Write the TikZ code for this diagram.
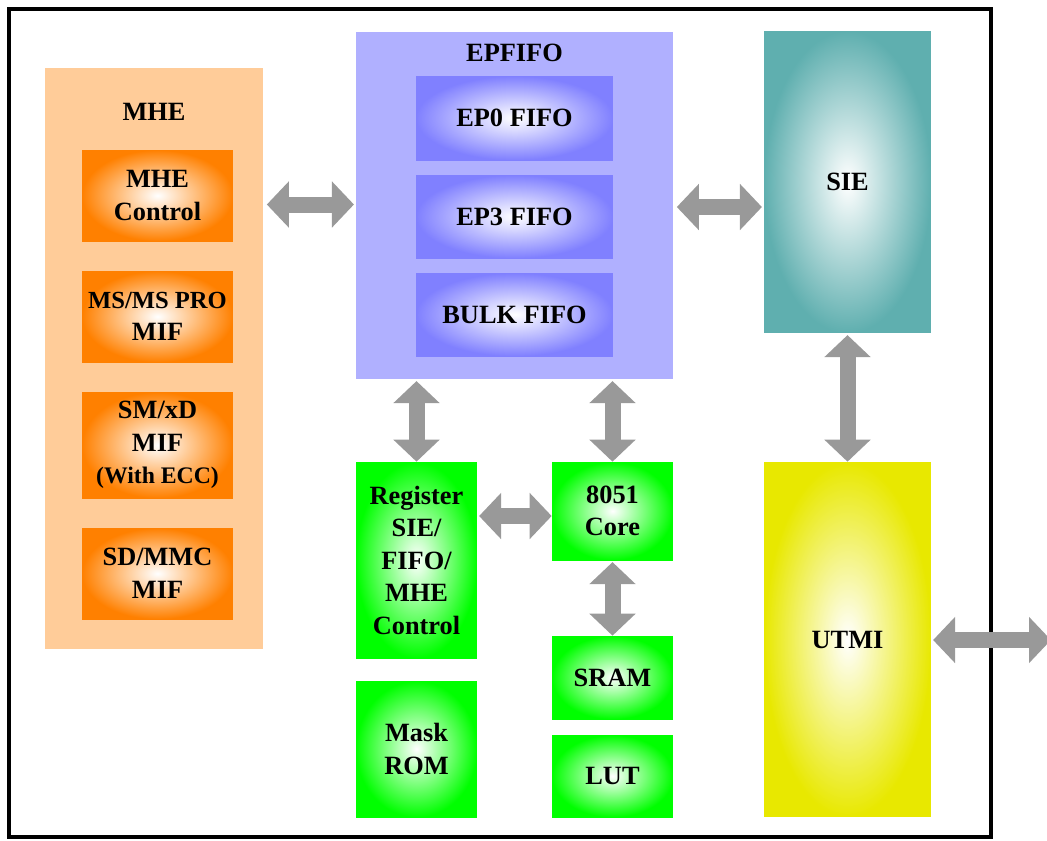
\documentclass[tikz,border=0pt]{standalone}
\usepackage{fontspec}
\setmainfont{Liberation Serif}
\usetikzlibrary{arrows.meta}
\definecolor{peach}{RGB}{255,204,153}
\definecolor{mheorange}{RGB}{255,128,0}
\definecolor{fifoback}{RGB}{176,176,255}
\definecolor{fifoblue}{RGB}{128,128,255}
\definecolor{sieteal}{RGB}{95,175,175}
\definecolor{utmiyellow}{RGB}{232,232,0}
\definecolor{ctlgreen}{RGB}{0,255,0}
\definecolor{arrowgray}{RGB}{153,153,153}
\pgfdeclareradialshading{orangeglow}{\pgfpointorigin}{color(0bp)=(white);color(25bp)=(mheorange);color(50bp)=(mheorange)}
\pgfdeclareradialshading{blueglow}{\pgfpointorigin}{color(0bp)=(white);color(25bp)=(fifoblue);color(50bp)=(fifoblue)}
\pgfdeclareradialshading{greenglow}{\pgfpointorigin}{color(0bp)=(white);color(25bp)=(ctlgreen);color(50bp)=(ctlgreen)}
\pgfdeclareradialshading{tealglow}{\pgfpointorigin}{color(0bp)=(white);color(25bp)=(sieteal);color(50bp)=(sieteal)}
\pgfdeclareradialshading{yellowglow}{\pgfpointorigin}{color(0bp)=(white);color(25bp)=(utmiyellow);color(50bp)=(utmiyellow)}
\begin{document}
\begin{tikzpicture}
[x=0.02cm, y=-0.02cm,
 font=\fontsize{15}{18.5}\selectfont\bfseries,
 back/.style ={rectangle, inner sep=0pt},
 block/.style ={rectangle, align=center, inner sep=0pt},
 mif/.style ={block, shading=orangeglow, minimum width=3.02cm, minimum height=1.82cm},
 fifo/.style ={block, shading=blueglow, minimum width=3.94cm},
 ctl/.style ={block, shading=greenglow, minimum width=2.42cm},
 fat/.style ={draw=arrowgray, line width=0.32cm, {Triangle[length=0.44cm, width=0.9cm]}-{Triangle[length=0.44cm, width=0.9cm]}}]
\useasboundingbox (0,0) rectangle (1047,840);
\fill[white] (0,0) rectangle (1047,840);
\draw[line width=0.08cm] (9,9) rectangle (991,837);
% MHE
\path (154,358.5) node[back, fill=peach, minimum width=4.36cm, minimum height=11.62cm] (mhe) {}
      (154,112) node (mhetitle) {MHE}
      (157.5,195.5) node[mif] (mhectl) {MHE\\Control}
      (157.5,316.5) node[mif] (msmif) {{\fontsize{14}{17}\selectfont MS/MS PRO}\\MIF}
      (157.5,445) node[mif, minimum height=2.12cm] (smmif) {SM/xD\\MIF\\{\fontsize{13.5}{14}\selectfont (With ECC)}}
      (157.5,573.5) node[mif] (sdmif) {SD/MMC\\MIF};
% EPFIFO
\path (514.5,205.5) node[back, fill=fifoback, minimum width=6.34cm, minimum height=6.94cm] (epfifo) {}
      (514.5,53) node (epfifotitle) {EPFIFO}
      (514.5,118) node[fifo, minimum height=1.68cm] (ep0) {EP0 FIFO}
      (514.5,216.5) node[fifo, minimum height=1.66cm] (ep3) {EP3 FIFO}
      (514.5,314.5) node[fifo, minimum height=1.66cm] (bulk) {BULK FIFO};
% SIE and UTMI
\path (847.5,182) node[block, shading=tealglow, minimum width=3.34cm, minimum height=6.04cm] (sie) {SIE}
      (847.5,639.5) node[block, shading=yellowglow, minimum width=3.34cm, minimum height=7.1cm] (utmi) {UTMI};
% 8051 side
\path (416.5,560) node[ctl, minimum height=3.92cm] (reg) {Register\\SIE/\\FIFO/\\MHE\\Control}
      (416.5,749) node[ctl, minimum height=2.72cm] (rom) {Mask\\ROM}
      (612.5,511) node[ctl, minimum height=1.96cm] (core) {8051\\Core}
      (612.5,677.5) node[ctl, minimum height=1.66cm] (sram) {SRAM}
      (612.5,776) node[ctl, minimum height=1.64cm] (lut) {LUT};
\coordinate (mherow) at (0,204.5);
\coordinate (sierow) at (0,207);
\coordinate (regrow) at (0,516);
\coordinate (usbend) at (1051,640);
\draw[fat] ([xshift=2]mhe.east |- mherow) -- ([xshift=-1]epfifo.west |- mherow);
\draw[fat] ([xshift=2]epfifo.east |- sierow) -- ([xshift=-1]sie.west |- sierow);
\draw[fat] ([yshift=-1]reg.north |- epfifo.south) -- (reg.north);
\draw[fat] ([yshift=-1]core.north |- epfifo.south) -- (core.north);
\draw[fat] ([xshift=1]reg.east |- regrow) -- (core.west |- regrow);
\draw[fat] ([yshift=-1]core.south) -- (sram.north);
\draw[fat] ([yshift=-1]sie.south) -- (utmi.north);
\draw[fat] ([xshift=1]utmi.east |- usbend) -- (usbend);
\end{tikzpicture}
\end{document}
